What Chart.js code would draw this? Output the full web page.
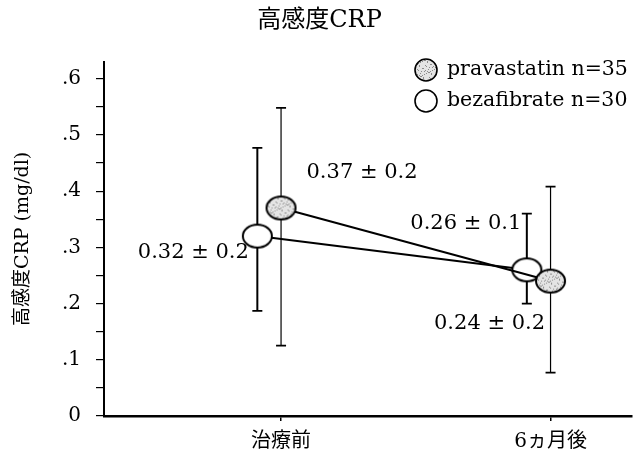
<!DOCTYPE html>
<html>
<head>
<meta charset="utf-8">
<script src="https://cdn.jsdelivr.net/npm/chart.js@4"></script>
<style>
  html, body { margin: 0; padding: 0; background: #fff; }
</style>
</head>
<body>
<canvas id="crp" width="639" height="458"></canvas>
<script>
// group means, spread (for the labels) and error bar ends
const categories = ['治療前', '6ヵ月後'];
const pravaMean = [0.37, 0.24];
const pravaSD = [0.2, 0.2];
const pravaLow = [0.125, 0.077];
const pravaHigh = [0.548, 0.408];
const bezaMean = [0.32, 0.26];
const bezaSD = [0.2, 0.1];
const bezaLow = [0.187, 0.2];
const bezaHigh = [0.477, 0.36];
const yTickValues = [0, 0.1, 0.2, 0.3, 0.4, 0.5, 0.6];
const yTickLabels = ['0', '.1', '.2', '.3', '.4', '.5', '.6'];
const legendLabels = ['pravastatin n=35', 'bezafibrate n=30'];

const SERIF = '"DejaVu Serif", "Noto Sans CJK JP", serif';
const BEZA_SHIFT = -0.088; // bezafibrate sits a bit left of each category

// fill a shape with light gray speckles
function speckle(ctx, w, h) {
    ctx.fillStyle = '#e4e4e4';
    ctx.fillRect(0, 0, w, h);
    ctx.fillStyle = '#8c8c8c';
    for (let i = 0; i < w; i++) {
        for (let j = 0; j < h; j++) {
            if ((i * 5 + j * 3 + (i * j) % 4) % 7 === 0) ctx.fillRect(i, j, 1, 1);
        }
    }
}

function makeEllipse(w, h, dotted) {
    const c = document.createElement('canvas');
    c.width = w + 4;
    c.height = h + 4;
    const ctx = c.getContext('2d');
    ctx.beginPath();
    ctx.ellipse(c.width / 2, c.height / 2, w / 2, h / 2, 0, 0, Math.PI * 2);
    ctx.fillStyle = '#fff';
    ctx.fill();
    if (dotted) {
        ctx.save();
        ctx.clip();
        speckle(ctx, c.width, c.height);
        ctx.restore();
    }
    ctx.lineWidth = 2;
    ctx.strokeStyle = '#000';
    ctx.stroke();
    return c;
}

const pravaMarker = makeEllipse(29, 23, true);
const bezaMarker = makeEllipse(29, 23, false);

const series = [
    { mean: pravaMean, sd: pravaSD, low: pravaLow, high: pravaHigh, shift: 0, marker: pravaMarker, barWidth: 1.2,
      labelOffset: [[81, -35], [-61, 42]] },
    { mean: bezaMean, sd: bezaSD, low: bezaLow, high: bezaHigh, shift: BEZA_SHIFT, marker: bezaMarker, barWidth: 2,
      labelOffset: [[-64, 16], [-61, -46]] }
];

const datasets = [];
series.forEach(s => {
    datasets.push({
        data: categories.map((c, i) => ({ x: i + s.shift, y: s.mean[i] })),
        borderColor: '#000',
        borderWidth: 2,
        pointStyle: s.marker,
        fill: false,
        order: 1
    });
    categories.forEach((c, i) => {
        datasets.push({
            data: [{ x: i + s.shift, y: s.low[i] }, { x: i + s.shift, y: s.high[i] }],
            borderColor: '#000',
            borderWidth: s.barWidth,
            pointStyle: 'line',
            pointRadius: 5,
            pointBorderColor: '#000',
            pointBorderWidth: 1.8,
            order: 3
        });
    });
});

const valueLabels = {
    id: 'valueLabels',
    afterDatasetsDraw(chart) {
        const ctx = chart.ctx;
        ctx.save();
        ctx.font = '21px ' + SERIF;
        ctx.fillStyle = '#000';
        ctx.textAlign = 'center';
        ctx.textBaseline = 'middle';
        series.forEach((s, k) => {
            const meta = chart.getDatasetMeta(k * (categories.length + 1));
            meta.data.forEach((pt, i) => {
                const txt = s.mean[i].toFixed(2) + ' ± ' + s.sd[i];
                ctx.fillText(txt, pt.x + s.labelOffset[i][0], pt.y + s.labelOffset[i][1]);
            });
        });
        ctx.restore();
    }
};

const seriesLegend = {
    id: 'seriesLegend',
    afterDraw(chart) {
        const ctx = chart.ctx;
        const x = 426, ys = [70, 101];
        ctx.save();
        series.forEach((s, k) => {
            ctx.beginPath();
            ctx.arc(x, ys[k], 11, 0, Math.PI * 2);
            ctx.fillStyle = '#fff';
            ctx.fill();
            if (k === 0) {
                ctx.save();
                ctx.clip();
                ctx.translate(x - 12, ys[k] - 12);
                speckle(ctx, 24, 24);
                ctx.restore();
            }
            ctx.lineWidth = 1.6;
            ctx.strokeStyle = '#000';
            ctx.stroke();
            ctx.font = '20.5px ' + SERIF;
            ctx.fillStyle = '#000';
            ctx.textAlign = 'left';
            ctx.textBaseline = 'middle';
            ctx.fillText(legendLabels[k], x + 21, ys[k]);
        });
        ctx.restore();
    }
};

new Chart(document.getElementById('crp'), {
    type: 'line',
    data: { datasets: datasets },
    options: {
        responsive: false,
        animation: false,
        events: [],
        layout: { padding: 0 },
        plugins: {
            legend: { display: false },
            tooltip: { enabled: false },
            title: {
                display: true,
                text: '高感度CRP',
                color: '#000',
                font: { family: SERIF, size: 24, weight: 'normal' },
                padding: { top: 6, bottom: 27 }
            }
        },
        scales: {
            x: {
                type: 'linear',
                min: -0.657,
                max: 1.303,
                afterBuildTicks: scale => { scale.ticks = categories.map((c, i) => ({ value: i })); },
                afterFit: scale => { scale.height = 42; },
                ticks: {
                    callback: (v, i) => categories[i],
                    color: '#000',
                    font: { family: SERIF, size: 20 },
                    padding: 9,
                    maxRotation: 0
                },
                grid: { drawOnChartArea: false, drawTicks: true, tickLength: 5, color: '#000', lineWidth: 1.5 },
                border: { color: '#000', width: 2.5 }
            },
            y: {
                min: 0,
                max: 0.63,
                afterBuildTicks: scale => {
                    const t = [];
                    yTickValues.forEach((v, i) => {
                        t.push({ value: v });
                        if (i < yTickValues.length - 1) t.push({ value: (v + yTickValues[i + 1]) / 2 });
                    });
                    scale.ticks = t;
                },
                afterFit: scale => { scale.width = 104; },
                ticks: {
                    callback: (v, i) => (i % 2 === 0 ? yTickLabels[i / 2] : ''),
                    color: '#000',
                    font: { family: SERIF, size: 20 },
                    padding: 15
                },
                grid: { drawOnChartArea: false, drawTicks: true, tickLength: 8, color: '#000', lineWidth: 1.2 },
                border: { color: '#000', width: 2 },
                title: {
                    display: true,
                    text: '高感度CRP (mg/dl)',
                    color: '#000',
                    font: { family: SERIF, size: 19 },
                    padding: { top: 12, bottom: 0 }
                }
            }
        }
    },
    plugins: [valueLabels, seriesLegend]
});
</script>
</body>
</html>
